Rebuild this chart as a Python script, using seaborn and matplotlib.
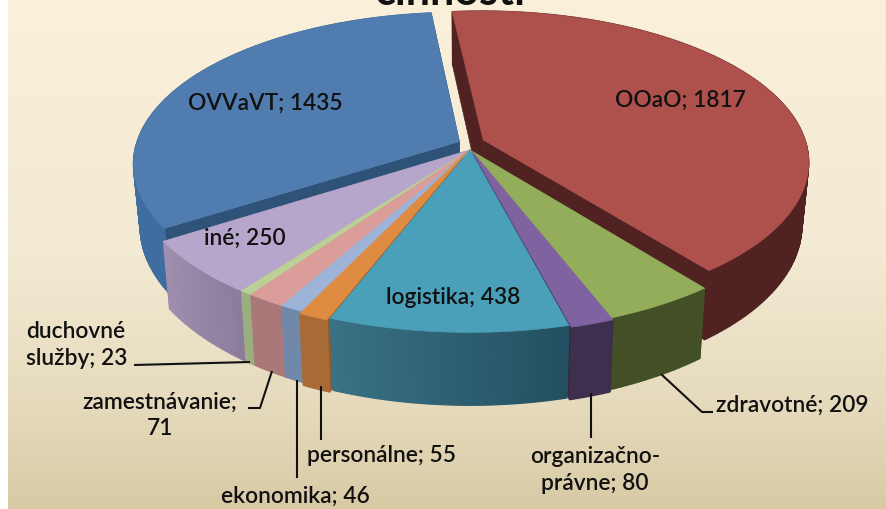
import numpy as np
import matplotlib
matplotlib.use("Agg")
import matplotlib.pyplot as plt
from matplotlib.colors import LinearSegmentedColormap, to_rgb
from matplotlib.patches import Polygon
import seaborn as sns

sns.set_theme(style="white")
plt.rcParams['font.family'] = ['Lato', 'DejaVu Sans']

names = ["OOaO", "zdravotné", "organizačno-právne", "logistika", "personálne",
         "ekonomika", "zamestnávanie", "duchovné služby", "iné", "OVVaVT"]
values = [1817, 209, 80, 438, 55, 46, 71, 23, 250, 1435]
offset_u = [0.04, 0.0, 0.006, 0.0, -0.008, 0.0, 0.0, 0.0, 0.0, -0.032]
offset_v = [0.066, 0.0, -0.008, 0.0, -0.008, 0.0, 0.0, 0.0, 0.0, 0.055]
radius = [0.97, 1, 1, 1, 1, 1, 1, 1, 1, 0.97]
top_colors = ["#AE504C", "#93AD5B", "#7F62A0", "#4AA0B8", "#DF8B42",
              "#9DB3D8", "#DB9D9A", "#BCCF95", "#B7A6CB", "#507CAF"]
wall_left = ["#512222", "#434F24", "#3D2F4D", "#3A7286", "#A86B35",
             "#7288A8", "#AA7878", "#9BAE80", "#A08FB0", "#3F6D9F"]
wall_right = ["#512222", "#434F24", "#3D2F4D", "#235060", "#A86B35",
              "#7288A8", "#AA7878", "#9BAE80", "#8A7C9A", "#3F6D9F"]
radial_colors = ["#512222", "#434F24", "#34283F", "#235060", "#8F5A2C",
                 "#5F7592", "#906464", "#84966C", "#8A7C9A", "#2F5378"]
back_order = [9, 0]
front_order = [8, 7, 6, 5, 3, 4, 1, 2]

start_angle = -6.0
cx, cy, R, Ry, H, k = 470.0, 150.0, 335.0, 155.0, 62.0, 0.15


def project(u, v, d=0.0):
    s = 1.0 / (1.0 + k * v)
    x = cx + R * u * s * (1 - 0.02 * d)
    y = cy - Ry * v * s + H * d * s
    return np.column_stack([np.atleast_1d(x), np.atleast_1d(y)])


fig, ax = plt.subplots(figsize=(8.86, 5.09), dpi=100)
fig.subplots_adjust(0, 0, 1, 1)
ax.set_xlim(0, 886)
ax.set_ylim(509, 0)
ax.axis("off")
fig.patch.set_facecolor("white")

bg = LinearSegmentedColormap.from_list(
    "bg", [(0, "#FBF0DA"), (0.5, "#F3EAD3"), (0.8, "#E5DABC"), (1, "#D8CAA5")])
ax.imshow(np.linspace(0, 1, 256)[:, None], cmap=bg, extent=(8, 886, 509, 0),
          aspect="auto", zorder=0)

fracs = np.array(values) / sum(values)
edges = start_angle + 360 * np.concatenate([[0], np.cumsum(fracs)])
zc = [1]


def slice_geometry(i):
    a0, a1 = np.radians(edges[i]), np.radians(edges[i + 1])
    t = np.linspace(a0, a1, max(int(np.degrees(a1 - a0)), 6))
    return a0, a1, t, offset_u[i], offset_v[i], radius[i]


def draw_radial(i):
    a0, a1, t, u0, v0, r = slice_geometry(i)
    for a in (a0, a1):
        rim = (u0 + r * np.sin(a), v0 + r * np.cos(a))
        wall = np.vstack([project(u0, v0), project(*rim), project(*rim, 1.0), project(u0, v0, 1.0)])
        ax.add_patch(Polygon(wall, closed=True, fc=radial_colors[i], ec=radial_colors[i], lw=0.5, zorder=zc[0]))
        zc[0] += 1


def draw_outer(i):
    a0, a1, t, u0, v0, r = slice_geometry(i)
    c0, c1 = np.array(to_rgb(wall_left[i])), np.array(to_rgb(wall_right[i]))
    top_pts = project(u0 + r * np.sin(t), v0 + r * np.cos(t))
    bot_pts = project(u0 + r * np.sin(t), v0 + r * np.cos(t), 1.0)
    xs = top_pts[:, 0]
    span = max(xs.max() - xs.min(), 1)
    for j in range(len(t) - 1):
        col = c0 + (c1 - c0) * (xs[j] - xs.min()) / span
        quad = np.vstack([top_pts[j:j + 2], bot_pts[j:j + 2][::-1]])
        ax.add_patch(Polygon(quad, closed=True, fc=col, ec=col, lw=0.9, zorder=zc[0]))
    zc[0] += 1


def draw_top(i):
    a0, a1, t, u0, v0, r = slice_geometry(i)
    face = np.vstack([project(u0, v0), project(u0 + r * np.sin(t), v0 + r * np.cos(t))])
    ax.add_patch(Polygon(face, closed=True, fc=top_colors[i], ec=top_colors[i], lw=0.5, zorder=zc[0]))
    zc[0] += 1


for i in back_order:
    draw_radial(i)
    draw_outer(i)
    draw_top(i)
for i in front_order:
    draw_radial(i)
for i in front_order:
    draw_outer(i)
for i in front_order:
    draw_top(i)

lab = dict(color="#111111", fontsize=16.4, fontweight="semibold", zorder=200, linespacing=1.3)
ax.text(680, 100, "OOaO; 1817", ha="center", va="center", **lab)
ax.text(265, 103, "OVVaVT; 1435", ha="center", va="center", **lab)
ax.text(245, 238, "iné; 250", ha="center", va="center", **lab)
ax.text(453, 298, "logistika; 438", ha="center", va="center", **lab)
ax.text(26, 345, "duchovné\nslužby; 23", ha="left", va="center", **lab)
ax.text(160, 415, "zamestnávanie;\n71", ha="center", va="center", **lab)
ax.text(382, 456, "personálne; 55", ha="center", va="center", **lab)
ax.text(295, 496, "ekonomika; 46", ha="center", va="center", **lab)
ax.text(595, 470, "organizačno-\nprávne; 80", ha="center", va="center", **lab)
ax.text(716, 405, "zdravotné; 209", ha="left", va="center", **lab)
ax.text(450, -8, "činnosti", ha="center", va="center", color="#111111",
        fontsize=31, fontweight="bold", zorder=200)

leaders = [
    ([134, 250], [365, 362]),
    ([248, 260, 272], [408, 408, 371]),
    ([297, 297], [380, 478]),
    ([321, 321], [386, 440]),
    ([591, 591], [393, 438]),
    ([661, 702, 713], [374, 412, 412]),
]
for lx, ly in leaders:
    ax.plot(lx, ly, color="#111111", lw=1.5, zorder=150, solid_capstyle="butt")

ax.set_xlim(0, 886)
ax.set_ylim(509, 0)
sns.despine(ax=ax, left=True, bottom=True)
fig.savefig("out.png", dpi=100)
